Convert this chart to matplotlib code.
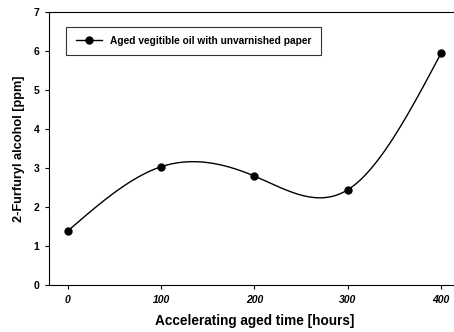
import numpy as np
import matplotlib
matplotlib.use('Agg')
import matplotlib.pyplot as plt

aged_hours = [0, 100, 200, 300, 400]
furfuryl_ppm = [1.38, 3.03, 2.79, 2.44, 5.95]
series_label = 'Aged vegitible oil with unvarnished paper'

plt.rcParams['font.family'] = ['Liberation Sans', 'DejaVu Sans']


def natural_spline(x, y, n=300):
    # natural cubic spline through the points, only for drawing the line
    x = np.asarray(x, float)
    y = np.asarray(y, float)
    k = len(x)
    h = np.diff(x)
    A = np.zeros((k, k))
    b = np.zeros(k)
    A[0, 0] = A[-1, -1] = 1
    for i in range(1, k - 1):
        A[i, i - 1] = h[i - 1]
        A[i, i] = 2 * (h[i - 1] + h[i])
        A[i, i + 1] = h[i]
        b[i] = 6 * ((y[i + 1] - y[i]) / h[i] - (y[i] - y[i - 1]) / h[i - 1])
    M = np.linalg.solve(A, b)
    xs = np.linspace(x[0], x[-1], n)
    idx = np.clip(np.searchsorted(x, xs) - 1, 0, k - 2)
    x0, x1 = x[idx], x[idx + 1]
    hh = x1 - x0
    t0 = x1 - xs
    t1 = xs - x0
    ys = (M[idx] * t0**3 + M[idx + 1] * t1**3) / (6 * hh) \
        + (y[idx] / hh - M[idx] * hh / 6) * t0 \
        + (y[idx + 1] / hh - M[idx + 1] * hh / 6) * t1
    return xs, ys


fig = plt.figure(figsize=(4.54, 3.32), dpi=100)
ax = fig.add_axes([0.108, 0.142, 0.905, 0.822])

xs, ys = natural_spline(aged_hours, furfuryl_ppm)
ax.plot(xs, ys, color='black', lw=1.0)
ax.plot(aged_hours, furfuryl_ppm, 'o', color='black', ms=5)
ax.plot([], [], '-o', color='black', ms=5, lw=1.0, label=series_label)

ax.set_xlim(-20, 420)
ax.set_ylim(0, 7)
ax.set_xticks(aged_hours)
ax.set_yticks(range(0, 8))
for lab in ax.get_xticklabels():
    lab.set_fontstyle('italic')
    lab.set_fontweight('bold')
    lab.set_fontsize(7.5)
for lab in ax.get_yticklabels():
    lab.set_fontweight('bold')
    lab.set_fontsize(7.5)
ax.tick_params(direction='out', length=3, width=0.8, pad=4)
ax.spines['right'].set_visible(False)
ax.spines['top'].set_linewidth(0.8)
ax.spines['left'].set_linewidth(0.8)
ax.spines['bottom'].set_linewidth(0.8)

ax.set_xlabel('Accelerating aged time [hours]', fontsize=9.8, fontweight='bold', labelpad=7)
ax.set_ylabel('2-Furfuryl alcohol [ppm]', fontsize=9.2, fontweight='bold', labelpad=6)

leg = ax.legend(loc='upper left', bbox_to_anchor=(0.03, 0.965),
                prop={'size': 7.3, 'weight': 'bold'},
                frameon=True, fancybox=False, edgecolor='black',
                handlelength=2.6, borderpad=0.9)
leg.get_frame().set_linewidth(0.8)

fig.savefig('out.png', dpi=100)
